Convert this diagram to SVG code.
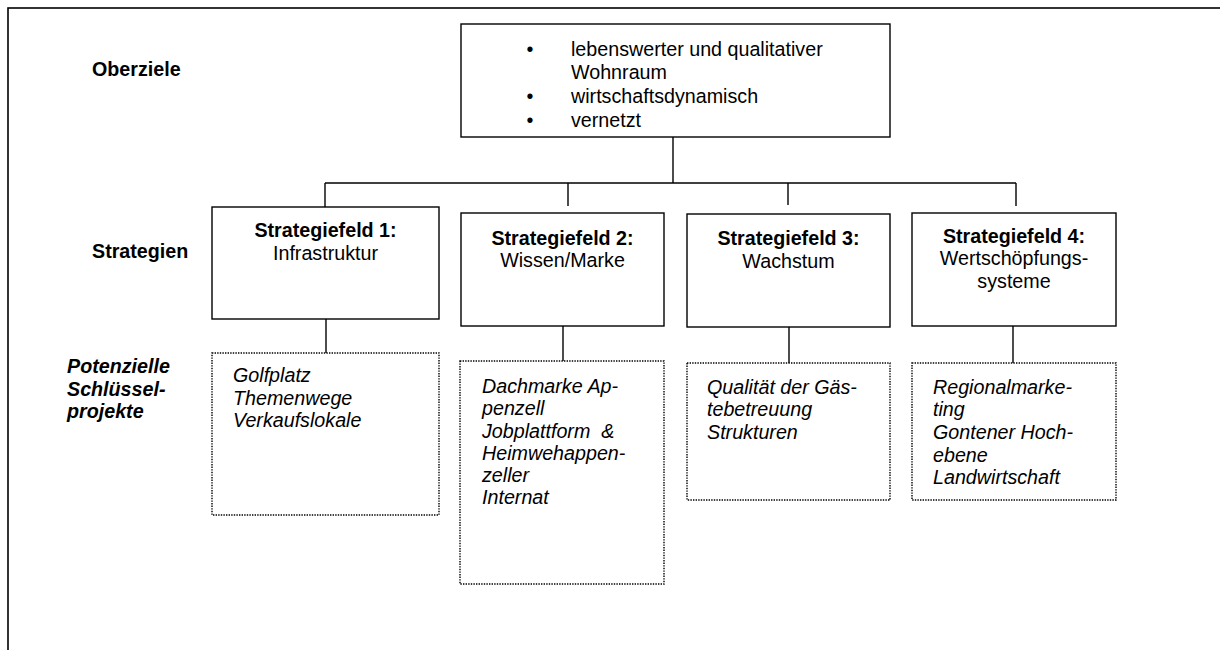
<svg xmlns="http://www.w3.org/2000/svg" width="1220" height="650" viewBox="0 0 1220 650">
<style>
  text { font-family: "Liberation Sans", Arial, sans-serif; font-size: 19.7px; fill: #000; }
  .b { font-weight: bold; }
  .i { font-style: italic; }
  .bi { font-weight: bold; font-style: italic; }
  .c { text-anchor: middle; }
  .box { fill: #fff; stroke: #000; stroke-width: 1.4; }
  .dot { fill: #fff; stroke: #000; stroke-width: 1.4; stroke-dasharray: 1.4 1.2; }
  .ln { stroke: #000; stroke-width: 1.4; fill: none; }
</style>
<rect x="0" y="0" width="1220" height="650" fill="#fff"/>
<rect x="8" y="8" width="1240" height="680" fill="none" stroke="#000" stroke-width="1.6"/>

<g id="labels">
  <text class="b" x="92" y="75.5">Oberziele</text>
  <text class="b" x="92" y="258">Strategien</text>
  <text class="bi" x="67" y="373">Potenzielle</text>
  <text class="bi" x="67" y="395.5">Schlüssel-</text>
  <text class="bi" x="67" y="418">projekte</text>
</g>

<g id="connectors">
  <line class="ln" x1="673" y1="137" x2="673" y2="183"/>
  <line class="ln" x1="325" y1="183" x2="1016" y2="183"/>
  <line class="ln" x1="325" y1="183" x2="325" y2="207"/>
  <line class="ln" x1="568" y1="183" x2="568" y2="206"/>
  <line class="ln" x1="788" y1="183" x2="788" y2="205"/>
  <line class="ln" x1="1016" y1="183" x2="1016" y2="206"/>
  <line class="ln" x1="326" y1="319" x2="326" y2="353"/>
  <line class="ln" x1="563" y1="326" x2="563" y2="361"/>
  <line class="ln" x1="789" y1="327" x2="789" y2="363"/>
  <line class="ln" x1="1013" y1="326" x2="1013" y2="363"/>
</g>

<g id="oberziele">
  <rect class="box" x="461" y="24" width="429" height="113"/>
  <text class="c" x="530" y="56">•</text>
  <text x="571" y="56">lebenswerter und qualitativer</text>
  <text x="571" y="78.5">Wohnraum</text>
  <text class="c" x="530" y="103">•</text>
  <text x="571" y="103">wirtschaftsdynamisch</text>
  <text class="c" x="530" y="127">•</text>
  <text x="571" y="127">vernetzt</text>
</g>

<g id="sf1">
  <rect class="box" x="212" y="207" width="227" height="112"/>
  <text class="b c" x="325.5" y="236.5">Strategiefeld 1:</text>
  <text class="c" x="325.5" y="259.5">Infrastruktur</text>
</g>
<g id="sf2">
  <rect class="box" x="461" y="213" width="203" height="113"/>
  <text class="b c" x="562.5" y="244.5">Strategiefeld 2:</text>
  <text class="c" x="562.5" y="267">Wissen/Marke</text>
</g>
<g id="sf3">
  <rect class="box" x="687" y="214" width="203" height="113"/>
  <text class="b c" x="788.5" y="244.5">Strategiefeld 3:</text>
  <text class="c" x="788.5" y="267.5">Wachstum</text>
</g>
<g id="sf4">
  <rect class="box" x="912" y="213" width="204" height="113"/>
  <text class="b c" x="1014" y="242.5">Strategiefeld 4:</text>
  <text class="c" x="1014" y="264.5">Wertschöpfungs-</text>
  <text class="c" x="1014" y="287.5">systeme</text>
</g>

<g id="p1">
  <rect class="dot" x="212" y="353" width="227" height="162"/>
  <text class="i" x="233" y="382">Golfplatz</text>
  <text class="i" x="233" y="404.5">Themenwege</text>
  <text class="i" x="233" y="427">Verkaufslokale</text>
</g>
<g id="p2">
  <rect class="dot" x="460" y="361" width="204" height="223"/>
  <text class="i" x="482" y="393">Dachmarke Ap-</text>
  <text class="i" x="482" y="415">penzell</text>
  <text class="i" x="482" y="437.5" xml:space="preserve">Jobplattform  &amp;</text>
  <text class="i" x="482" y="460">Heimwehappen-</text>
  <text class="i" x="482" y="482">zeller</text>
  <text class="i" x="482" y="504">Internat</text>
</g>
<g id="p3">
  <rect class="dot" x="687" y="363" width="203" height="137"/>
  <text class="i" x="707" y="393.5">Qualität der Gäs-</text>
  <text class="i" x="707" y="416">tebetreuung</text>
  <text class="i" x="707" y="439">Strukturen</text>
</g>
<g id="p4">
  <rect class="dot" x="912" y="363" width="204" height="137"/>
  <text class="i" x="933" y="393.5">Regionalmarke-</text>
  <text class="i" x="933" y="416">ting</text>
  <text class="i" x="933" y="439">Gontener Hoch-</text>
  <text class="i" x="933" y="461.5">ebene</text>
  <text class="i" x="933" y="484">Landwirtschaft</text>
</g>
</svg>
